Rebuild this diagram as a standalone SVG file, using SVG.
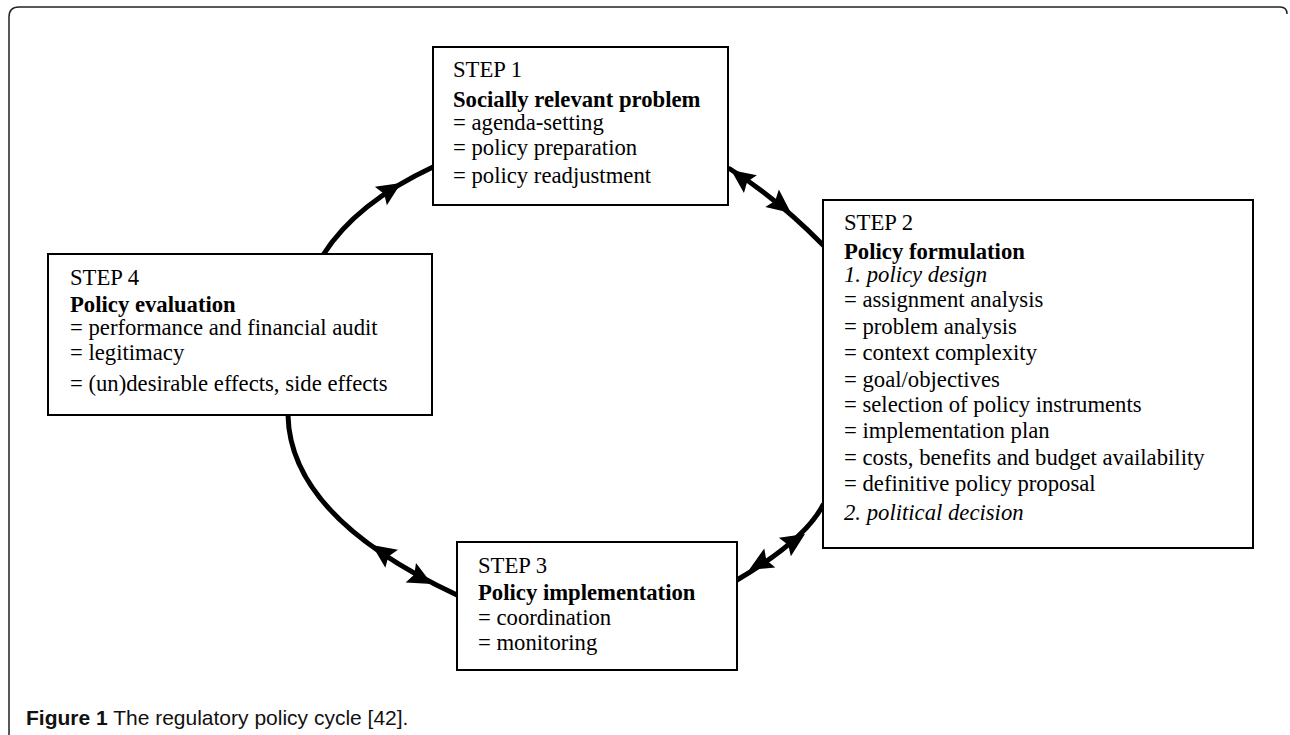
<svg xmlns="http://www.w3.org/2000/svg" width="1290" height="735" viewBox="0 0 1290 735">
<style>
.box{fill:#fff;stroke:#000;stroke-width:2}
.t{font-family:"Liberation Serif","Times New Roman",serif;font-size:22.7px;fill:#000}
.b{font-weight:bold}
.i{font-style:italic}
.arc{fill:none;stroke:#000;stroke-width:5;stroke-linecap:round}
.frame{fill:none;stroke:#222;stroke-width:1.5}
.cap{font-family:"Liberation Sans",Arial,sans-serif;font-size:21px;fill:#111}
</style>
<defs>
<polygon id="head" points="0,0 -24,-11 -20,0 -24,11" fill="#000"/>
</defs>
<rect width="1290" height="735" fill="#fff"/>
<path class="frame" d="M9,735 V17 Q9,7 19,7 H1280 Q1287,7 1287,14"/>
<g id="connectors">
<path class="arc" d="M323,255 Q356,203 433,167"/>
<use href="#head" transform="translate(401,183) rotate(-33)"/>
<path class="arc" d="M730,169 Q778,199 823,245"/>
<use href="#head" transform="translate(731,170) rotate(-144)"/>
<use href="#head" transform="translate(791,213) rotate(38)"/>
<path class="arc" d="M823,505 Q805,540 737,580"/>
<use href="#head" transform="translate(805,534) rotate(-33)"/>
<use href="#head" transform="translate(749,570) rotate(150)"/>
<path class="arc" d="M288,415 Q290,517 457,595"/>
<use href="#head" transform="translate(372,545) rotate(-145)"/>
<use href="#head" transform="translate(432,584) rotate(28)"/>
</g>
<g id="step1">
<rect class="box" x="433" y="47" width="295" height="158"/>
<text class="t" x="453" y="77">STEP 1</text>
<text class="t b" x="453" y="107">Socially relevant problem</text>
<text class="t" x="453" y="130">= agenda-setting</text>
<text class="t" x="453" y="155">= policy preparation</text>
<text class="t" x="453" y="183">= policy readjustment</text>
</g>
<g id="step2">
<rect class="box" x="823" y="200" width="430" height="348"/>
<text class="t" x="844" y="230">STEP 2</text>
<text class="t b" x="844" y="259">Policy formulation</text>
<text class="t i" x="844" y="282">1. policy design</text>
<text class="t" x="844" y="307">= assignment analysis</text>
<text class="t" x="844" y="334">= problem analysis</text>
<text class="t" x="844" y="360">= context complexity</text>
<text class="t" x="844" y="387">= goal/objectives</text>
<text class="t" x="844" y="412">= selection of policy instruments</text>
<text class="t" x="844" y="438">= implementation plan</text>
<text class="t" x="844" y="465">= costs, benefits and budget availability</text>
<text class="t" x="844" y="491">= definitive policy proposal</text>
<text class="t i" x="844" y="520">2. political decision</text>
</g>
<g id="step3">
<rect class="box" x="457" y="542" width="280" height="128"/>
<text class="t" x="478" y="573">STEP 3</text>
<text class="t b" x="478" y="600">Policy implementation</text>
<text class="t" x="478" y="625">= coordination</text>
<text class="t" x="478" y="650">= monitoring</text>
</g>
<g id="step4">
<rect class="box" x="48" y="254" width="384" height="161"/>
<text class="t" x="70" y="285">STEP 4</text>
<text class="t b" x="70" y="312">Policy evaluation</text>
<text class="t" x="70" y="335">= performance and financial audit</text>
<text class="t" x="70" y="360">= legitimacy</text>
<text class="t" x="70" y="391">= (un)desirable effects, side effects</text>
</g>
<g id="caption">
<text class="cap" x="26" y="725"><tspan font-weight="bold">Figure 1</tspan> The regulatory policy cycle [42].</text>
</g>
</svg>
